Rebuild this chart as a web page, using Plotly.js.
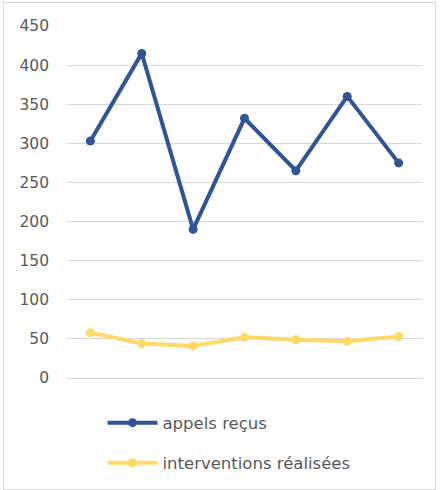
<!DOCTYPE html>
<html>
<head>
<meta charset="utf-8">
<script src="https://cdn.plot.ly/plotly-3.0.1.min.js"></script>
<style>
html,body{margin:0;padding:0;background:#fff;}
#chart{position:absolute;left:3px;top:2px;width:433px;height:488px;box-sizing:border-box;border:1px solid #d9d9d9;}
</style>
</head>
<body>
<div id="chart"></div>
<script>
const categories = ["1", "2", "3", "4", "5", "6", "7"];
const appelsRecus = [303, 415, 190, 332, 265, 360, 275];
const interventionsRealisees = [58, 44, 41, 52, 49, 47, 53];
const seriesNames = ["appels reçus", "interventions réalisées"];
const yTicks = [0, 50, 100, 150, 200, 250, 300, 350, 400, 450];

const traces = [
  {
    x: categories, y: appelsRecus, name: seriesNames[0], type: "scatter", mode: "lines+markers",
    line: {color: "#2F5597", width: 4}, marker: {color: "#2F5597", size: 9},
    legend: "legend"
  },
  {
    x: categories, y: interventionsRealisees, name: seriesNames[1], type: "scatter", mode: "lines+markers",
    line: {color: "#FFD966", width: 4}, marker: {color: "#FFD966", size: 9},
    legend: "legend2"
  }
];

const legendFont = {family: "DejaVu Sans, sans-serif", size: 16.5, color: "#595959"};
const layout = {
  width: 431, height: 486,
  margin: {l: 63, r: 13, t: 23, b: 111},
  paper_bgcolor: "#ffffff", plot_bgcolor: "#ffffff",
  showlegend: true,
  xaxis: {type: "category", showticklabels: false, showgrid: false, zeroline: false, showline: false, ticks: "", fixedrange: true, automargin: false},
  yaxis: {
    range: [0, 450], tickvals: yTicks, ticktext: yTicks.map(String), automargin: false,
    showgrid: true, gridcolor: "#d9d9d9", gridwidth: 1,
    zeroline: true, zerolinecolor: "#d9d9d9", zerolinewidth: 1,
    showline: false, ticks: "", ticklabelstandoff: 17,
    tickfont: {family: "DejaVu Sans, sans-serif", size: 15.5, color: "#595959"}
  },
  legend: {x: 0.1, xanchor: "left", yref: "container", y: 0.136, yanchor: "middle", font: legendFont, itemwidth: 50, bgcolor: "rgba(0,0,0,0)"},
  legend2: {x: 0.1, xanchor: "left", yref: "container", y: 0.0535, yanchor: "middle", font: legendFont, itemwidth: 50, bgcolor: "rgba(0,0,0,0)"}
};

Plotly.newPlot("chart", traces, layout, {staticPlot: true, displayModeBar: false});
</script>
</body>
</html>
